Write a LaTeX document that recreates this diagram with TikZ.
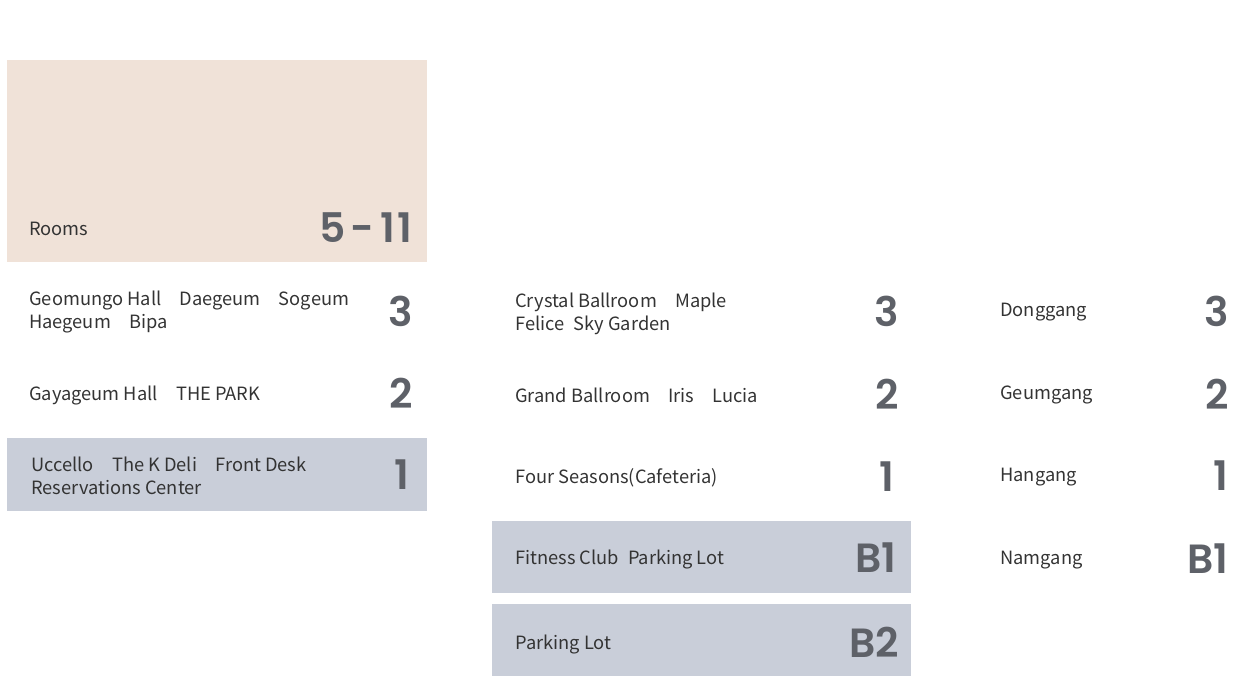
\documentclass[tikz,border=0pt]{standalone}
\usepackage{fontspec}
\setmainfont{Noto Sans CJK KR}
\newfontfamily\flrfont{Poppins SemiBold}
\usepackage{xcolor}
\usetikzlibrary{positioning}
\definecolor{roompeach}{HTML}{F0E2D8}
\definecolor{bandgray}{HTML}{C9CED9}
\definecolor{numgray}{HTML}{5E6168}
\definecolor{textdark}{HTML}{333333}

\begin{document}
\begin{tikzpicture}[x=0.025cm, y=-0.025cm,
  lbl/.style={anchor=west, inner sep=0pt, align=left, text=textdark, font=\fontsize{13}{16.2}\selectfont},
  lblone/.style={lbl, text height=12pt, text depth=1pt},
  flr/.style={anchor=east, inner sep=0pt, text=numgray, font=\flrfont\fontsize{29}{29}\selectfont}]
  \useasboundingbox (0,0) rectangle (1250,684);
  \fill[roompeach] (7,60) rectangle (427,262);
  \fill[bandgray] (7,438) rectangle (427,511);
  \fill[bandgray] (492,521) rectangle (911,593);
  \fill[bandgray] (492,604) rectangle (911,676);

  \node[lblone] (rooms) at (29,228) {Rooms};
  \node[flr] (roomsflr) at (413,228) {5\kern4pt-\kern4pt1\kern2pt1};
  \node[lbl] (lthree) at (29,312) {Geomungo Hall\quad Daegeum\quad Sogeum\\Haegeum\quad Bipa};
  \node[flr] (lthreeflr) at (413,311) {3};
  \node[lblone] (ltwo) at (29,393) {Gayageum Hall\quad THE PARK};
  \node[flr] (ltwoflr) at (413,393) {2};
  \node[lbl] (lone) at (31,476) {Uccello\quad The K Deli\quad Front Desk\\Reservations Center};
  \node[flr] (loneflr) at (410,475) {1};

  \node[lbl] (mthree) at (515,314) {Crystal Ballroom\quad Maple\\Felice\enspace Sky Garden};
  \node[flr] (mthreeflr) at (899,311) {3};
  \node[lblone] (mtwo) at (515,395) {Grand Ballroom\quad Iris\quad Lucia};
  \node[flr] (mtwoflr) at (899,394) {2};
  \node[lblone] (mone) at (515,476) {Four Seasons(Cafeteria)};
  \node[flr] (moneflr) at (895,477) {1};
  \node[lblone] (mbone) at (515,557) {Fitness Club\enspace Parking Lot};
  \node[flr] (mboneflr) at (897,558) {B1};
  \node[lblone] (mbtwo) at (515,642) {Parking Lot};
  \node[flr] (mbtwoflr) at (899,642) {B2};

  \foreach \y/\name/\fl/\id in {309/Donggang/3/a, 392/Geumgang/2/b, 474/Hangang/1/c, 557/Namgang/B1/d} {
    \node[lblone] (r\id) at (1000,\y) {\name};
    \node[flr] (r\id flr) at (1229,\y+2) {\fl};
  }
\end{tikzpicture}
\end{document}
